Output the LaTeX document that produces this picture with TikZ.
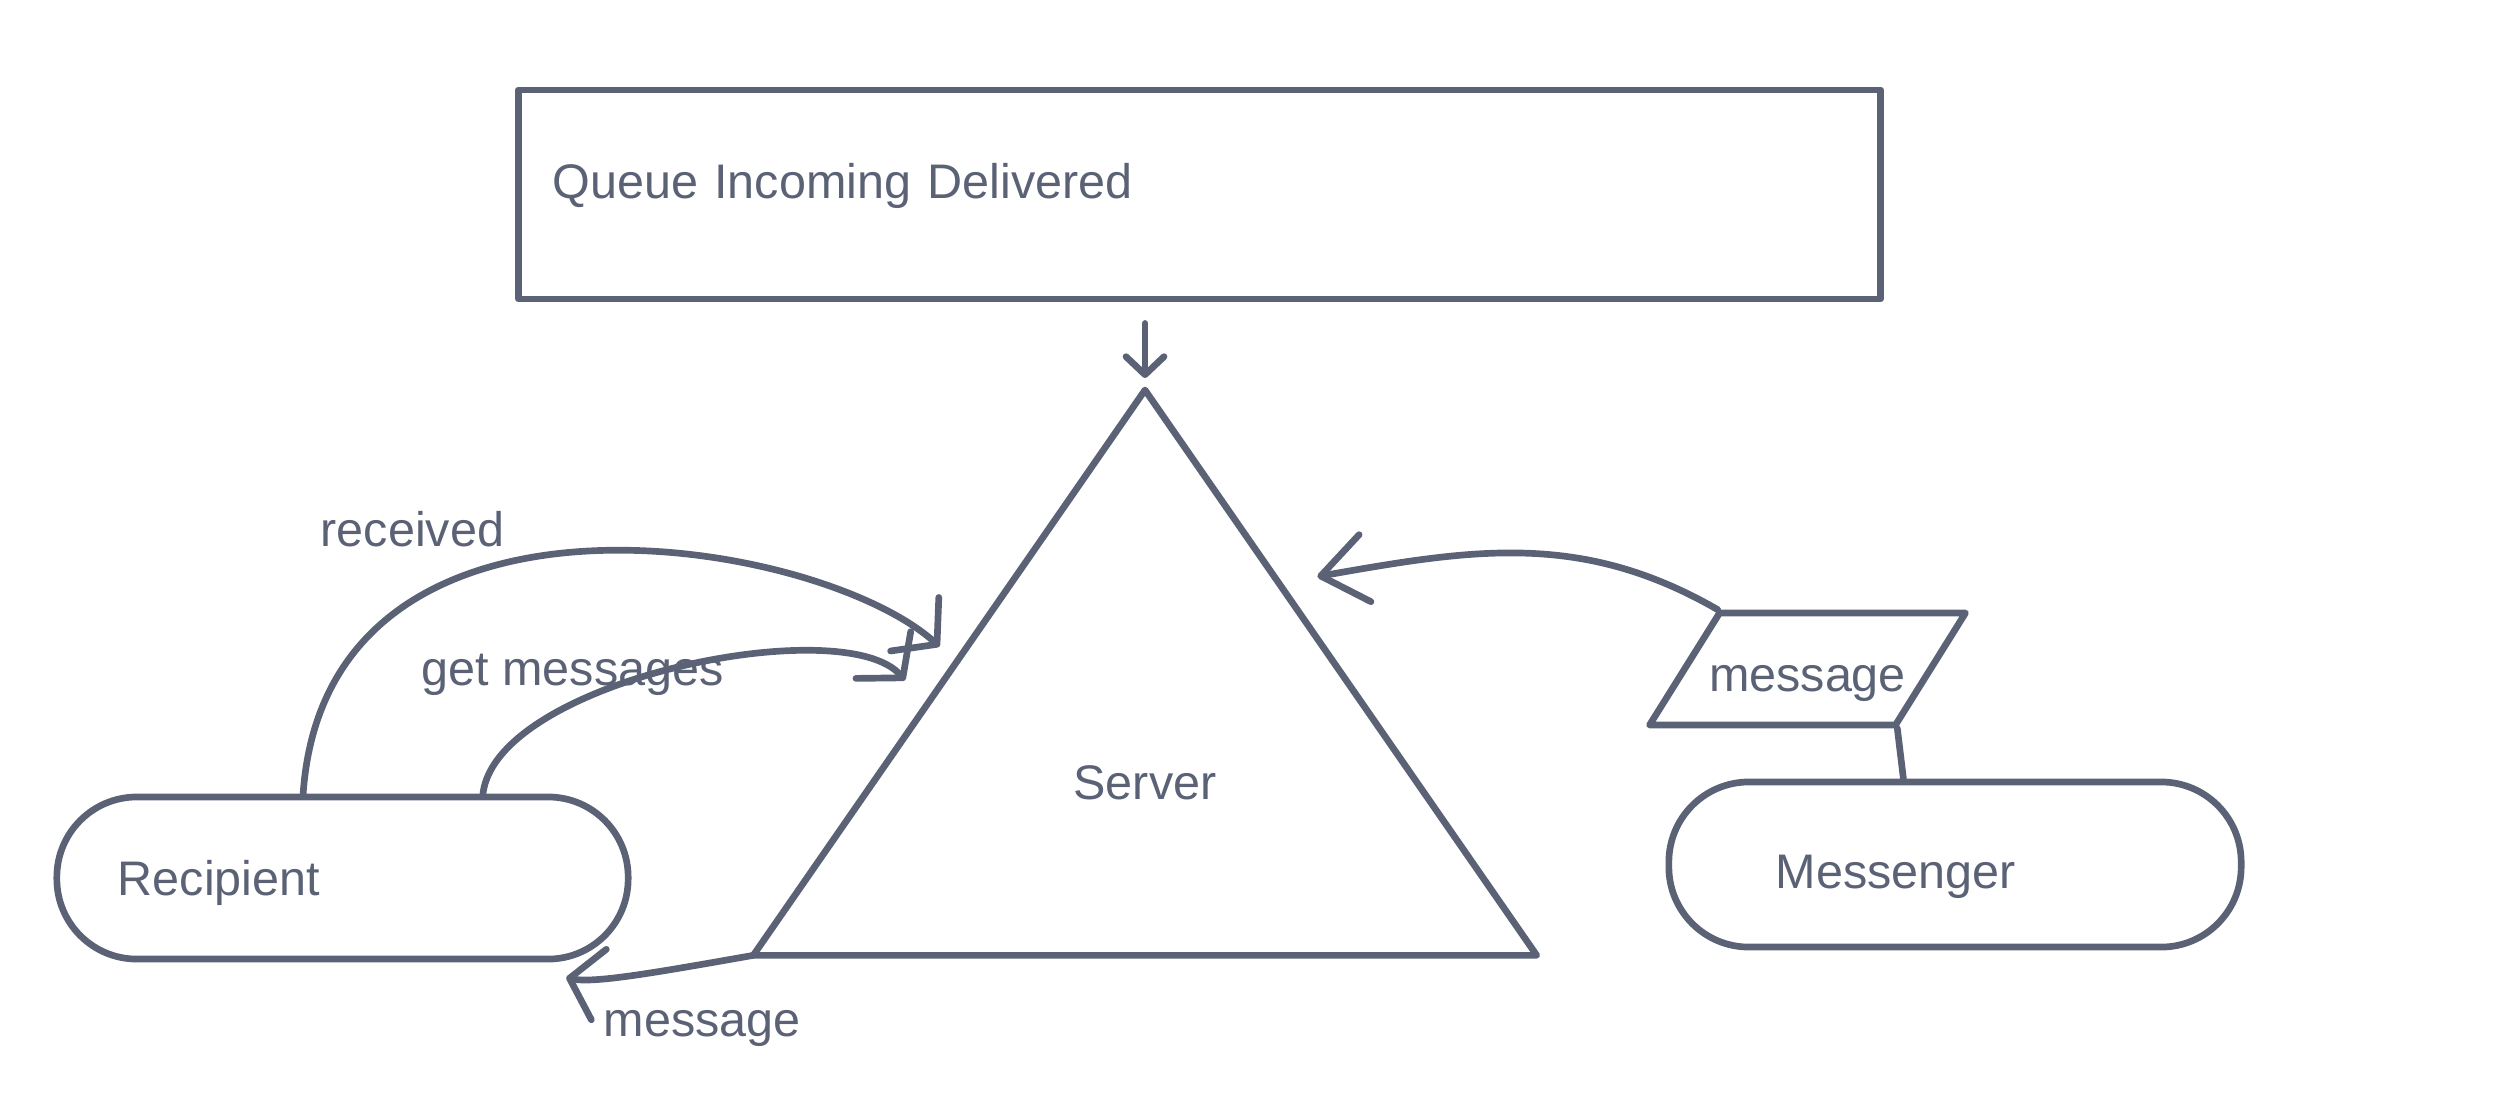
\documentclass[tikz,border=0pt]{standalone}
\usepackage{fontspec}
\setmainfont{Liberation Sans}
\usetikzlibrary{arrows.meta,shapes.geometric,calc}
\definecolor{slate}{RGB}{91,98,117}

\begin{document}
\begin{tikzpicture}[x=0.01cm,y=0.01cm,->,>={Straight Barb[round,length=0.3cm,width=0.72cm]},
                    color=slate,line width=1.9pt,line join=round,line cap=round,
                    font=\fontsize{13.8}{16}\selectfont,
                    box node/.style={draw,rectangle,inner ysep=0pt,align=left,text height=0.35cm,text depth=0pt},
                    pill node/.style={box node,rounded corners=0.8cm},
                    server node/.style={draw,isosceles triangle,isosceles triangle stretches,shape border rotate=90,
                                        minimum width=7.83cm,minimum height=5.65cm,inner sep=0pt,outer sep=0pt},
                    data node/.style={draw,trapezium,trapezium left angle=58,trapezium right angle=122,
                                      text height=0.45cm,text depth=0pt,inner xsep=-0.105cm,inner ysep=0.335cm}]
                \useasboundingbox (0,0) rectangle (2494,-1108);
                \node[box node,text width=12.93cm,inner xsep=0.34cm,text depth=0.28cm,minimum height=2.09cm] (Q) at (1199.5,-194.5) {Queue Incoming Delivered};
                \node[server node,anchor=apex] (S) at (1145,-390) {Server};
                \node[pill node,text width=4.49cm,inner xsep=0.61cm,minimum height=1.62cm] (R) at (342.5,-878) {Recipient};
                \node[pill node,text width=3.58cm,inner xsep=1.07cm,text height=0.47cm,minimum height=1.65cm] (M) at (1955,-864.5) {Messenger};
                \node[data node] (P) at (1807.5,-669) {message};
                \path (S.apex |- Q.south) edge[shorten <=0.21cm,shorten >=0.12cm,-{Straight Barb[round,length=0.18cm,width=0.38cm]}] (S.apex)
                      (P.top left corner) edge[out=150,in=10,out looseness=0.92,in looseness=1.14,shorten >=0.39cm,
                                              -{Straight Barb[round,length=0.45cm,width=0.68cm]}] ($(S.apex)!0.342!(S.right corner)$)
                      (P.bottom right corner) edge[-] (M.121)
                      (R.115) edge[out=86,in=138,out looseness=1.3,in looseness=0.72,shorten >=0.23cm]
                                  node[pos=0.3,anchor=base,xshift=-0.16cm,yshift=0.46cm] {received} ($(S.apex)!0.481!(S.left corner)$)
                      (R.31) edge[out=83,in=130.5,out looseness=0.65,in looseness=0.71,shorten >=0.33cm]
                                 node[pos=0.3,anchor=base,xshift=0.03cm,yshift=0.21cm] {get messages} ($(S.apex)!0.558!(S.left corner)$)
                      (S.left corner) edge[out=190,in=-12,shorten >=0.73cm]
                                 node[pos=0.3,anchor=base,xshift=0.3cm,yshift=-0.68cm] {message} (R.-29);
\end{tikzpicture}
\end{document}
